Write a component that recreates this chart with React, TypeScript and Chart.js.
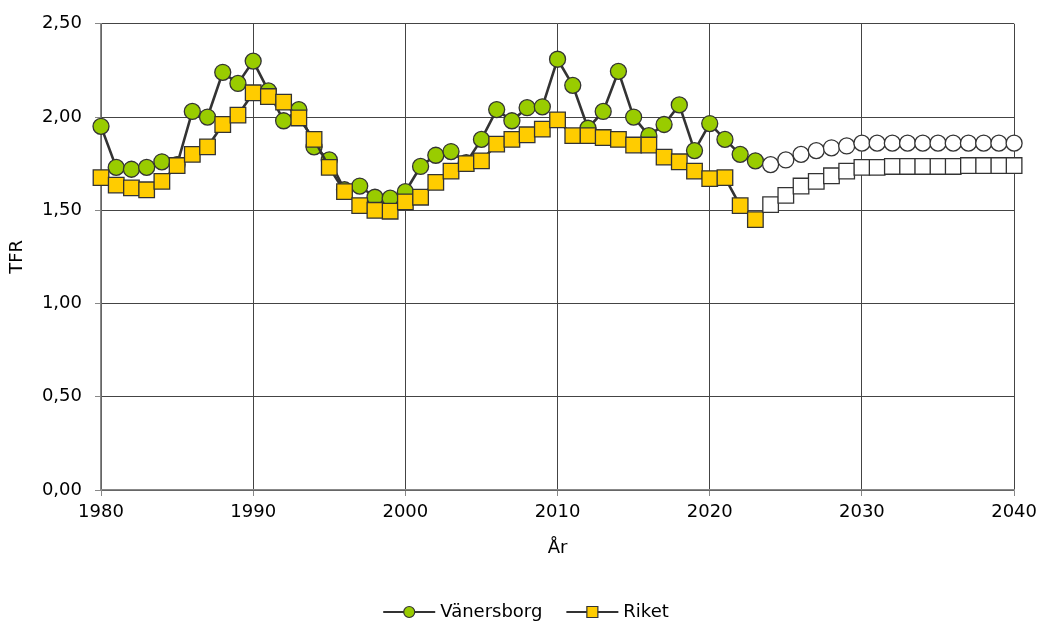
import React, { useEffect, useRef } from "react";
import { Chart, registerables } from "chart.js";

Chart.register(...registerables);

const YEARS = [
  1980, 1981, 1982, 1983, 1984, 1985, 1986, 1987, 1988, 1989,
  1990, 1991, 1992, 1993, 1994, 1995, 1996, 1997, 1998, 1999,
  2000, 2001, 2002, 2003, 2004, 2005, 2006, 2007, 2008, 2009,
  2010, 2011, 2012, 2013, 2014, 2015, 2016, 2017, 2018, 2019,
  2020, 2021, 2022, 2023, 2024, 2025, 2026, 2027, 2028, 2029,
  2030, 2031, 2032, 2033, 2034, 2035, 2036, 2037, 2038, 2039,
  2040,
];

const VANERSBORG = [
  1.95, 1.73, 1.72, 1.73, 1.76, 1.745, 2.03, 2.0, 2.24, 2.18,
  2.3, 2.14, 1.98, 2.04, 1.84, 1.77, 1.61, 1.63, 1.57, 1.565,
  1.6, 1.735, 1.795, 1.815, 1.755, 1.88, 2.04, 1.98, 2.05, 2.055,
  2.31, 2.17, 1.94, 2.03, 2.245, 2.0, 1.9, 1.96, 2.065, 1.82,
  1.965, 1.88, 1.8, 1.765, 1.745, 1.77, 1.8, 1.82, 1.835, 1.845,
  1.86, 1.86, 1.86, 1.86, 1.86, 1.86, 1.86, 1.86, 1.86, 1.86,
  1.86,
];

const RIKET = [
  1.675, 1.635, 1.62, 1.61, 1.655, 1.74, 1.8, 1.84, 1.96, 2.01,
  2.13, 2.11, 2.08, 1.995, 1.88, 1.73, 1.6, 1.525, 1.5, 1.495,
  1.545, 1.57, 1.65, 1.71, 1.75, 1.765, 1.855, 1.88, 1.905, 1.935,
  1.985, 1.9, 1.9, 1.89, 1.88, 1.85, 1.85, 1.785, 1.76, 1.71,
  1.67, 1.675, 1.525, 1.45, 1.53, 1.58, 1.63, 1.655, 1.685, 1.71,
  1.73, 1.73, 1.735, 1.735, 1.735, 1.735, 1.735, 1.74, 1.74, 1.74,
  1.74,
];

const FORECAST_FROM = 2024;
const SERIES_NAMES = ["Vänersborg", "Riket"];
const X_TITLE = "År";
const Y_TITLE = "TFR";

const FONT = "'DejaVu Sans', sans-serif";
const GREEN = "#99cc00";
const YELLOW = "#ffcc00";
const LINE = "#333333";

export default function App() {
  const ref = useRef<HTMLCanvasElement>(null);

  useEffect(() => {
    document.body.style.margin = "0";
    const canvas = ref.current;
    if (!canvas) return;

    const fills = (color: string) =>
      YEARS.map((y) => (y >= FORECAST_FROM ? "#ffffff" : color));

    const legendPlugin = {
      id: "lineLegend",
      afterDraw(chart: any) {
        const ctx = chart.ctx as CanvasRenderingContext2D;
        ctx.save();
        ctx.font = `18px ${FONT}`;
        ctx.textBaseline = "middle";
        const symW = 52;
        const gap = 5;
        const itemGap = 24;
        const w0 = ctx.measureText(SERIES_NAMES[0]).width;
        const w1 = ctx.measureText(SERIES_NAMES[1]).width;
        const total = symW + gap + w0 + itemGap + symW + gap + w1;
        let x = 526 - total / 2;
        const y = 612;
        const items = [
          { name: SERIES_NAMES[0], color: GREEN, style: "circle", w: w0 },
          { name: SERIES_NAMES[1], color: YELLOW, style: "rect", w: w1 },
        ];
        for (const it of items) {
          ctx.strokeStyle = LINE;
          ctx.lineWidth = 2;
          ctx.beginPath();
          ctx.moveTo(x, y);
          ctx.lineTo(x + symW, y);
          ctx.stroke();
          const cx = x + symW / 2;
          ctx.fillStyle = it.color;
          ctx.lineWidth = 1.2;
          ctx.beginPath();
          if (it.style === "circle") {
            ctx.arc(cx, y, 5.5, 0, Math.PI * 2);
          } else {
            ctx.rect(cx - 5.5, y - 5.5, 11, 11);
          }
          ctx.fill();
          ctx.stroke();
          ctx.fillStyle = "#000";
          ctx.textAlign = "left";
          ctx.fillText(it.name, x + symW + gap, y);
          x += symW + gap + it.w + itemGap;
        }
        ctx.restore();
      },
    };

    const chart = new Chart(canvas, {
      type: "line",
      data: {
        datasets: [
          {
            label: SERIES_NAMES[0],
            data: YEARS.map((yr, i) => ({ x: yr, y: VANERSBORG[i] })),
            borderColor: LINE,
            borderWidth: 2.6,
            pointStyle: "circle",
            pointRadius: 8,
            pointBorderWidth: 1.3,
            pointBorderColor: LINE,
            pointBackgroundColor: fills(GREEN),
            tension: 0,
            clip: false,
            order: 1,
          },
          {
            label: SERIES_NAMES[1],
            data: YEARS.map((yr, i) => ({ x: yr, y: RIKET[i] })),
            borderColor: LINE,
            borderWidth: 2.6,
            pointStyle: "rect",
            pointRadius: 11,
            pointBorderWidth: 1.3,
            pointBorderColor: LINE,
            pointBackgroundColor: fills(YELLOW),
            tension: 0,
            clip: false,
            order: 0,
          },
        ],
      },
      options: {
        animation: false,
        responsive: true,
        maintainAspectRatio: false,
        layout: { padding: { top: 22, right: 27, left: 0, bottom: 0 } },
        plugins: {
          legend: { display: false },
          tooltip: { enabled: false },
        },
        scales: {
          x: {
            type: "linear",
            min: 1980,
            max: 2040,
            afterFit(scale: any) {
              scale.height = 134;
            },
            ticks: {
              stepSize: 10,
              color: "#000",
              font: { family: FONT, size: 18 },
              padding: 6,
              maxRotation: 0,
              callback: (v: any) => String(v),
            },
            grid: {
              color: "#444",
              lineWidth: 1,
              tickLength: 6,
              tickColor: "#888",
            },
            border: { color: "#888", width: 1.5 },
            title: {
              display: true,
              text: X_TITLE,
              color: "#000",
              font: { family: FONT, size: 18 },
              padding: { top: 0, bottom: 65 },
            },
          },
          y: {
            min: 0,
            max: 2.5,
            afterFit(scale: any) {
              scale.width = 101;
            },
            ticks: {
              stepSize: 0.5,
              color: "#000",
              font: { family: FONT, size: 18 },
              padding: 13,
              callback: (v: any) => Number(v).toFixed(2).replace(".", ","),
            },
            grid: {
              color: "#444",
              lineWidth: 1,
              tickLength: 6,
              tickColor: "#888",
            },
            border: { color: "#888", width: 1.5 },
            title: {
              display: true,
              text: Y_TITLE,
              color: "#000",
              font: { family: FONT, size: 18 },
              padding: { top: 7, bottom: 0 },
            },
          },
        },
      },
      plugins: [legendPlugin],
    });

    return () => chart.destroy();
  }, []);

  return (
    <div style={{ width: 1043, height: 624, position: "relative" }}>
      <canvas ref={ref} />
    </div>
  );
}
